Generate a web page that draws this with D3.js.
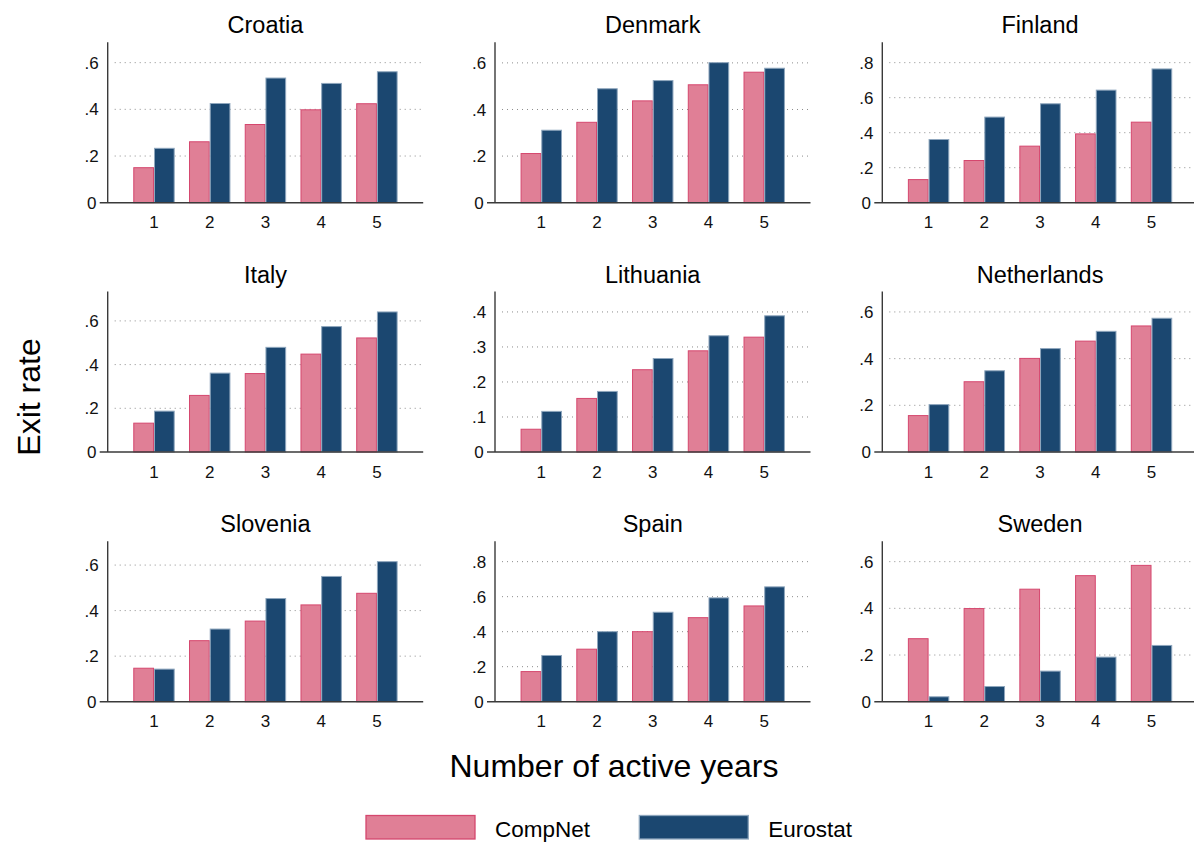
<!DOCTYPE html>
<html>
<head>
<meta charset="utf-8">
<script src="https://cdn.jsdelivr.net/npm/d3@7"></script>
<style>
  body { margin: 0; background: #fff; }
  svg { display: block; font-family: "Liberation Sans", Arial, sans-serif; }
</style>
</head>
<body>
<svg id="chart"></svg>
<script>
const countries = ["Croatia", "Denmark", "Finland", "Italy", "Lithuania", "Netherlands", "Slovenia", "Spain", "Sweden"];
const years = [1, 2, 3, 4, 5];
const seriesNames = ["CompNet", "Eurostat"];

// exit rate by number of active years, one row per country
const compNet = [
  [0.150, 0.261, 0.335, 0.398, 0.424],
  [0.211, 0.345, 0.437, 0.506, 0.560],
  [0.132, 0.241, 0.323, 0.393, 0.460],
  [0.132, 0.259, 0.359, 0.448, 0.522],
  [0.065, 0.153, 0.235, 0.289, 0.328],
  [0.156, 0.301, 0.401, 0.475, 0.540],
  [0.147, 0.268, 0.354, 0.425, 0.476],
  [0.172, 0.300, 0.400, 0.480, 0.547],
  [0.270, 0.399, 0.482, 0.540, 0.584]
];
const eurostat = [
  [0.233, 0.425, 0.534, 0.511, 0.561],
  [0.311, 0.489, 0.524, 0.601, 0.577],
  [0.361, 0.489, 0.565, 0.643, 0.764],
  [0.187, 0.361, 0.479, 0.574, 0.641],
  [0.116, 0.173, 0.267, 0.332, 0.389],
  [0.203, 0.348, 0.443, 0.517, 0.573],
  [0.143, 0.319, 0.453, 0.550, 0.615],
  [0.264, 0.400, 0.511, 0.593, 0.656],
  [0.021, 0.065, 0.131, 0.191, 0.241]
];
const yTicks = [
  [0, 0.2, 0.4, 0.6],
  [0, 0.2, 0.4, 0.6],
  [0, 0.2, 0.4, 0.6, 0.8],
  [0, 0.2, 0.4, 0.6],
  [0, 0.1, 0.2, 0.3, 0.4],
  [0, 0.2, 0.4, 0.6],
  [0, 0.2, 0.4, 0.6],
  [0, 0.2, 0.4, 0.6, 0.8],
  [0, 0.2, 0.4, 0.6]
];

const width = 1194, height = 842;
const colors = { CompNet: "#e07f96", Eurostat: "#1b4770" };
const strokes = { CompNet: "#d5476e", Eurostat: "#8ea6bd" };

const colX = [107.7, 495, 882.3];
const rowBase = [202.7, 452, 701.7];
const plotW = 315.5, plotH = 160.5;

const svg = d3.select("#chart").attr("width", width).attr("height", height);

const fmt = v => v === 0 ? "0" : d3.format(".1f")(v).replace(/^0/, "");

countries.forEach((name, i) => {
  const x0 = colX[i % 3], y0 = rowBase[Math.floor(i / 3)];
  const ticks = yTicks[i];
  const top = Math.max(d3.max(ticks), d3.max(compNet[i]), d3.max(eurostat[i])) * 1.146;

  const x = d3.scaleBand(years, [0, plotW]).paddingInner(0.257).paddingOuter(0.459);
  const xs = d3.scaleBand(seriesNames, [0, x.bandwidth()]);
  const y = d3.scaleLinear([0, top], [plotH, 0]);

  const g = svg.append("g").attr("transform", `translate(${x0},${y0 - plotH})`);

  // dotted grid
  g.selectAll("line.grid")
    .data(ticks.filter(t => t > 0))
    .join("line")
    .attr("x1", 7).attr("x2", plotW)
    .attr("y1", d => y(d)).attr("y2", d => y(d))
    .attr("stroke", "#8c8c8c")
    .attr("stroke-width", 1)
    .attr("stroke-dasharray", "1,4");

  // bars
  const rows = years.map((yr, j) => ({ yr, CompNet: compNet[i][j], Eurostat: eurostat[i][j] }));
  g.selectAll("g.grp")
    .data(rows)
    .join("g")
    .attr("transform", d => `translate(${x(d.yr)},0)`)
    .selectAll("rect")
    .data(d => seriesNames.map(s => ({ s, v: d[s] })))
    .join("rect")
    .attr("x", d => xs(d.s) + 0.5)
    .attr("width", xs.bandwidth() - 1)
    .attr("y", d => y(d.v))
    .attr("height", d => y(0) - y(d.v))
    .attr("fill", d => colors[d.s])
    .attr("stroke", d => strokes[d.s])
    .attr("stroke-width", 1);

  // axes
  g.append("line")
    .attr("x1", 0).attr("x2", 0).attr("y1", 0).attr("y2", plotH)
    .attr("stroke", "#3a3a3a").attr("stroke-width", 1.4);
  g.append("line")
    .attr("x1", -8).attr("x2", plotW).attr("y1", plotH).attr("y2", plotH)
    .attr("stroke", "#3a3a3a").attr("stroke-width", 1.4);

  g.selectAll("text.yt")
    .data(ticks)
    .join("text")
    .attr("x", -16)
    .attr("y", d => y(d))
    .attr("dy", "0.36em")
    .attr("text-anchor", "middle")
    .attr("font-size", 17)
    .attr("fill", "#111")
    .text(fmt);

  g.selectAll("text.xt")
    .data(years)
    .join("text")
    .attr("x", d => x(d) + x.bandwidth() / 2)
    .attr("y", plotH + 25.5)
    .attr("text-anchor", "middle")
    .attr("font-size", 17)
    .attr("fill", "#111")
    .text(d => d);

  g.append("text")
    .attr("x", plotW / 2)
    .attr("y", -9)
    .attr("text-anchor", "middle")
    .attr("font-size", 23.5)
    .attr("fill", "#000")
    .text(name);
});

// axis titles
svg.append("text")
  .attr("transform", "translate(40,397) rotate(-90)")
  .attr("text-anchor", "middle")
  .attr("font-size", 32)
  .text("Exit rate");

svg.append("text")
  .attr("x", 614)
  .attr("y", 777)
  .attr("text-anchor", "middle")
  .attr("font-size", 32)
  .text("Number of active years");

// legend
const legendX = [366, 639.3];
const lg = svg.selectAll("g.leg")
  .data(seriesNames)
  .join("g")
  .attr("transform", (d, k) => `translate(${legendX[k]},815.5)`);
lg.append("rect")
  .attr("width", 109).attr("height", 23.5)
  .attr("fill", d => colors[d])
  .attr("stroke", d => strokes[d])
  .attr("stroke-width", 1.3);
lg.append("text")
  .attr("x", 129)
  .attr("y", 21)
  .attr("font-size", 22.5)
  .text(d => d);
</script>
</body>
</html>
